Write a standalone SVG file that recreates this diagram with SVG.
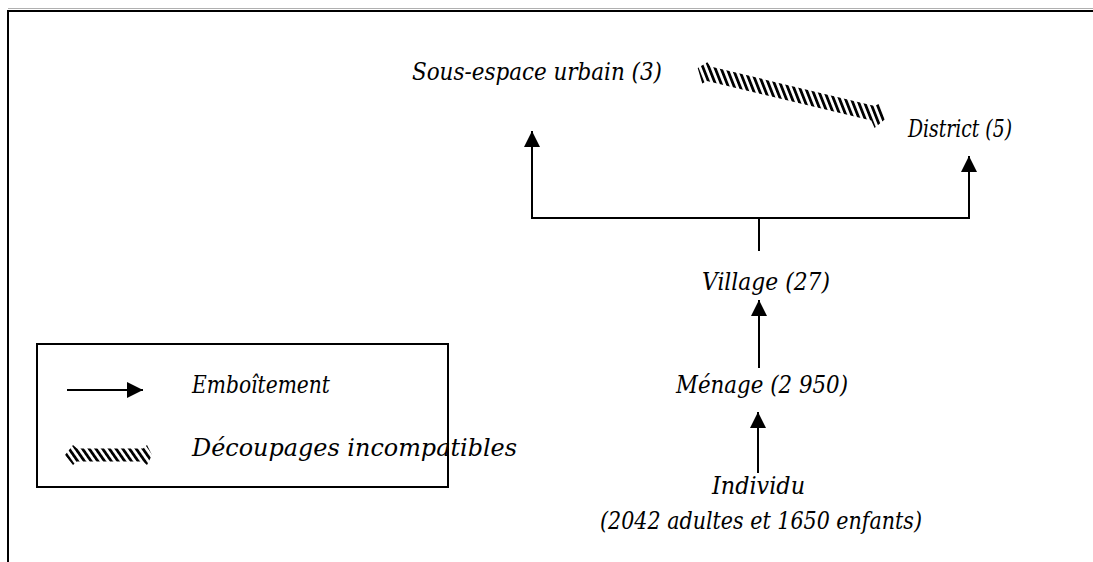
<svg xmlns="http://www.w3.org/2000/svg" width="1093" height="562" viewBox="0 0 1093 562">
<defs>
<style>
.lbl{font-family:"DejaVu Serif","Liberation Serif",serif;font-style:italic;font-size:24px;fill:#000}
.ln{stroke:#000;stroke-width:2;fill:none}
.frame{stroke:#000;stroke-width:2;fill:none}
.halo{stroke:#b0b0b0;stroke-width:1;fill:none}
</style>
<marker id="ahb" viewBox="0 0 16 16" refX="16" refY="8" markerWidth="16" markerHeight="16" markerUnits="userSpaceOnUse" orient="auto">
<path d="M0,0 L16,8 L0,16 Z" fill="#000"/>
</marker>
<pattern id="stripes" patternUnits="userSpaceOnUse" width="5.5" height="5.5" patternTransform="rotate(-35)">
<rect width="5.5" height="5.5" fill="#fff"/>
<rect width="2.8" height="5.5" fill="#000"/>
</pattern>
</defs>
<rect width="1093" height="562" fill="#fff"/>

<g id="frame">
<path class="halo" d="M8,8.5 H1093"/>
<path class="frame" d="M8,562 V11 H1093"/>
</g>

<g id="connectors">
<path class="ln" d="M532,218 H970"/>
<path class="ln" d="M759,218 V251"/>
<path class="ln" d="M532,219 V131" marker-end="url(#ahb)"/>
<path class="ln" d="M969,219 V156" marker-end="url(#ahb)"/>
<path class="ln" d="M759,368 V300" marker-end="url(#ahb)"/>
<path class="ln" d="M758,473 V412" marker-end="url(#ahb)"/>
<g transform="translate(697,71) rotate(13.5)">
<polygon points="0,-3 8,-11 12,-7.5 181,-7.5 185,-11 194,3 186,14 181,7.5 12,7.5 8,11" fill="url(#stripes)"/>
</g>
</g>

<g id="sous-espace"><text class="lbl" x="412" y="80" textLength="250" lengthAdjust="spacingAndGlyphs">Sous-espace urbain (3)</text></g>
<g id="district"><text class="lbl" x="908" y="137" textLength="104" lengthAdjust="spacingAndGlyphs">District (5)</text></g>
<g id="village"><text class="lbl" x="702" y="290" textLength="128" lengthAdjust="spacingAndGlyphs">Village (27)</text></g>
<g id="menage"><text class="lbl" x="676" y="393" textLength="172" lengthAdjust="spacingAndGlyphs">Ménage (2 950)</text></g>
<g id="individu">
<text class="lbl" x="712" y="494" textLength="93" lengthAdjust="spacingAndGlyphs">Individu</text>
<text class="lbl" x="600" y="529" textLength="322" lengthAdjust="spacingAndGlyphs">(2042 adultes et 1650 enfants)</text>
</g>

<g id="legend">
<rect x="37" y="344" width="411" height="143" fill="none" stroke="#000" stroke-width="2"/>
<path class="ln" d="M67,390 H143" marker-end="url(#ahb)"/>
<text class="lbl" x="192" y="393" textLength="138" lengthAdjust="spacingAndGlyphs">Emboîtement</text>
<g transform="translate(65,455)">
<polygon points="0,0 8,-10 12,-6.5 78,-6.5 82,-10 87,0 82,10 78,6.5 12,6.5 8,10" fill="url(#stripes)"/>
</g>
<text class="lbl" x="192" y="456" textLength="325" lengthAdjust="spacingAndGlyphs">Découpages incompatibles</text>
</g>
</svg>
